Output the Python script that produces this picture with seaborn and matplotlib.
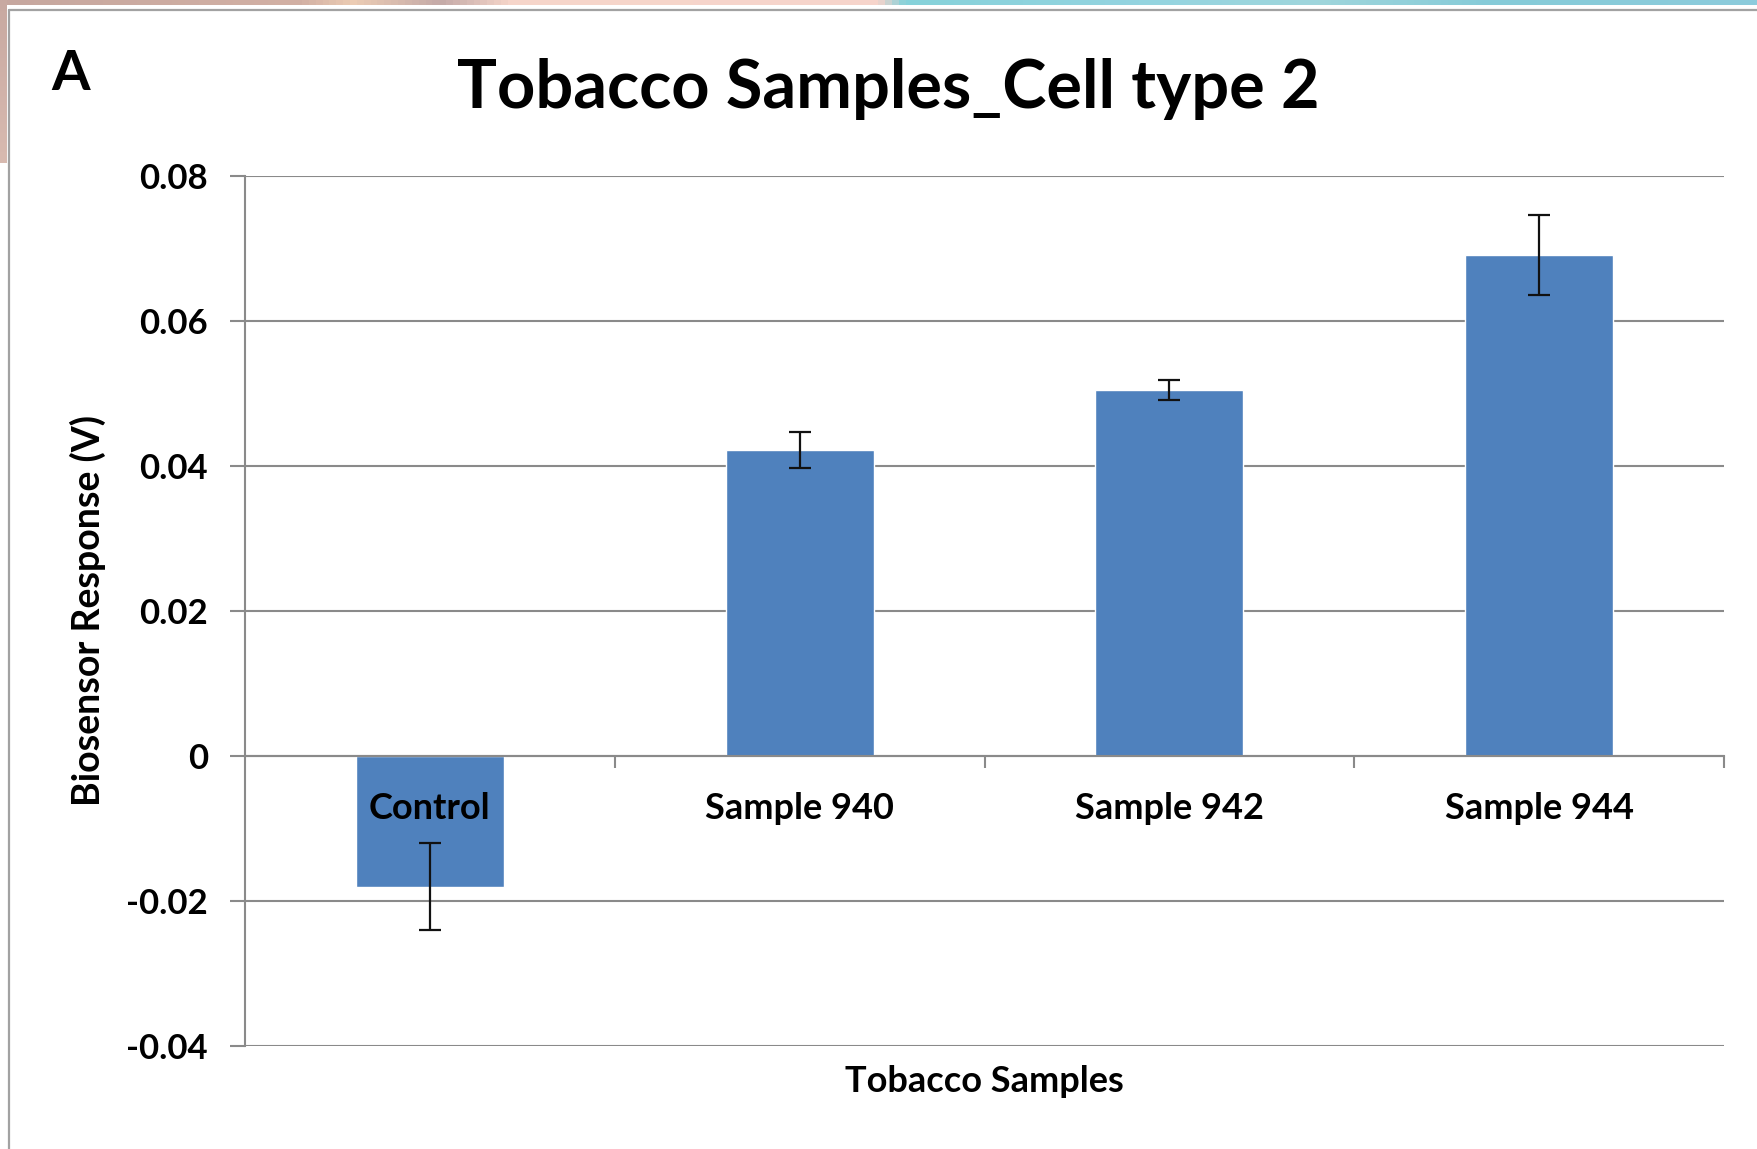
import numpy as np
import matplotlib
matplotlib.use("Agg")
import matplotlib.pyplot as plt
from matplotlib.lines import Line2D
from matplotlib.colors import LinearSegmentedColormap
import seaborn as sns

# Biosensor readings for each tobacco sample (mean and error)
samples = ["Control", "Sample 940", "Sample 942", "Sample 944"]
response = [-0.018, 0.0422, 0.0505, 0.0691]
error = [0.006, 0.0025, 0.0014, 0.0055]
yticks = [-0.04, -0.02, 0.0, 0.02, 0.04, 0.06, 0.08]
ytick_labels = ["-0.04", "-0.02", "0", "0.02", "0.04", "0.06", "0.08"]

sns.set_style("white")
plt.rcParams["font.family"] = ["Lato", "DejaVu Sans"]
plt.rcParams["font.weight"] = "bold"
for key in ["text.color", "axes.labelcolor", "xtick.labelcolor", "ytick.labelcolor"]:
    plt.rcParams[key] = "black"

W, H, DPI = 1757, 1149, 100
fig = plt.figure(figsize=(W / DPI, H / DPI), dpi=DPI)
fig.patch.set_facecolor("white")

# decorative slide background peeking out at the top and left edges
bg = fig.add_axes([0, 0, 1, 1], zorder=-5)
bg.set_xlim(0, W)
bg.set_ylim(H, 0)
bg.axis("off")
top_cmap = LinearSegmentedColormap.from_list(
    "strip",
    [(0.0, "#c6a79f"), (0.17, "#d2b0a4"), (0.20, "#ecccb4"), (0.25, "#c4aaa8"),
     (0.29, "#f6d6ca"), (0.50, "#f7d4cc"), (0.515, "#86d2da"), (0.65, "#94d4e0"),
     (0.75, "#9fd6dc"), (0.85, "#86cbd8"), (1.0, "#8ccbdc")])
bg.imshow(np.linspace(0, 1, 512)[None, :], cmap=top_cmap, aspect="auto",
          extent=(0, W, 5, 0))
left_cmap = LinearSegmentedColormap.from_list("side", ["#c8a9a1", "#d8bab0"])
bg.imshow(np.linspace(0, 1, 64)[:, None], cmap=left_cmap, aspect="auto",
          extent=(0, 7, 163, 0))
frame_kw = dict(color="#a2a2a2", lw=1.6, transform=bg.transData)
bg.add_line(Line2D([8.5, 8.5], [9.5, H], **frame_kw))
bg.add_line(Line2D([8.5, W], [9.5, 9.5], **frame_kw))

# main chart area
ax = fig.add_axes([245 / W, 1 - 1046 / H, (1724 - 245) / W, (1046 - 176) / H])
sns.barplot(x=samples, y=response, color="#4F81BD", saturation=1, width=0.4,
            errorbar=None, ax=ax, zorder=3)
ax.errorbar(np.arange(len(samples)), response, yerr=error, fmt="none",
            ecolor="#111111", elinewidth=1.6, capsize=7.6, capthick=1.6, zorder=4)

grid_color = "#8a8a8a"
ax.set_xlim(-0.5, len(samples) - 0.5)
ax.set_ylim(-0.04, 0.08)
ax.set_yticks(yticks)
ax.set_yticklabels(ytick_labels, fontsize=25, fontweight="bold")
ax.yaxis.grid(True, color=grid_color, lw=1.5)
ax.set_axisbelow(True)
ax.tick_params(axis="y", direction="out", length=10.8, width=1.5, color=grid_color,
               pad=16, left=True)
ax.set_xticks([])
for side in ["top", "right", "bottom"]:
    ax.spines[side].set_visible(False)
ax.spines["left"].set_color(grid_color)
ax.spines["left"].set_linewidth(1.5)

# category axis drawn along the zero line, on top of the bars
zero_frac = (0 - (-0.04)) / (0.08 - (-0.04))
cat = ax.secondary_xaxis(zero_frac)
cat.set_zorder(6)
cat.set_xticks(np.arange(len(samples)) + 0.5)
cat.set_xticklabels([])
cat.set_xticks(np.arange(len(samples)), labels=samples, minor=True)
cat.tick_params(which="major", direction="out", length=8.6, width=1.5, color=grid_color)
cat.tick_params(which="minor", length=0, pad=26, labelsize=26)
for lbl in cat.get_xticklabels(minor=True):
    lbl.set_fontweight("bold")
cat.spines["bottom"].set_color(grid_color)
cat.spines["bottom"].set_linewidth(1.5)

ax.set_xlabel("Tobacco Samples", fontsize=26, fontweight="bold", labelpad=14)
ax.set_ylabel("Biosensor Response (V)", fontsize=27, fontweight="bold")
ax.yaxis.set_label_coords(-(245 - 106) / (1724 - 245), 0.5)

fig.text(888 / W, 1 - 108 / H, "Tobacco Samples_Cell type 2", ha="center",
         va="baseline", fontsize=48, fontweight="bold")
fig.text(51 / W, 1 - 90 / H, "A", ha="left", va="baseline", fontsize=40,
         fontweight="bold")

fig.savefig("out.png", dpi=DPI, facecolor="white")
